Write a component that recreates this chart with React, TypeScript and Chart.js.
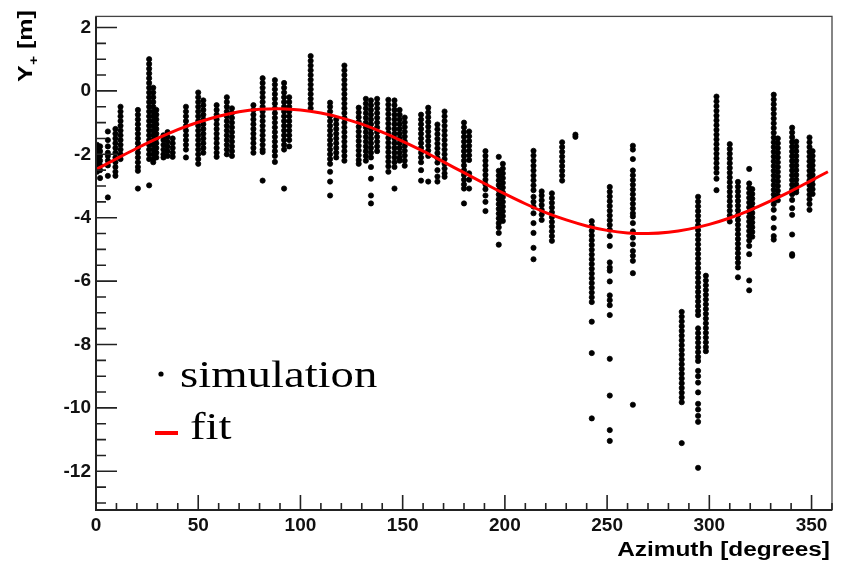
import React, { useEffect, useRef } from 'react';
import { Chart, registerables } from 'chart.js';

Chart.register(...registerables);

// Azimuth (degrees) of each vertical column of simulated points
const simColumnX = [
  0.5, 2.0, 5.8, 9.5, 12.0, 20.5, 26.0, 28.0, 29.5, 33.0, 35.0, 37.5, 44.0, 50.0, 52.5, 59.0, 64.0, 66.5,
  77.0, 81.5, 87.5, 92.0, 94.5, 105.0, 114.5, 117.5, 121.5, 128.5, 132.0, 134.5, 137.5, 143.0, 146.0, 148.5,
  151.0, 159.0, 162.5, 167.0, 170.5, 180.0, 182.5, 190.5, 197.0, 199.0, 214.0, 218.0, 223.0, 228.0, 234.5,
  242.5, 251.3, 262.6, 286.5, 294.5, 298.3, 303.5, 310.0, 314.0, 319.5, 321.0, 331.5, 333.5, 340.5, 342.5,
  349.0, 350.5,
];

// Y+ values (m) read for each column
const simColumnY: number[][] = [
  [-1.70, -1.85, -2.00, -2.15, -2.30, -2.45, -2.55],
  [-1.75, -1.90, -2.05, -2.20, -2.35, -2.50, -2.75],
  [-1.28, -1.55, -1.75, -1.95, -2.05, -2.20, -2.35, -2.68, -3.36],
  [-1.20, -1.35, -1.50, -1.65, -1.80, -1.95, -2.10, -2.25, -2.40, -2.55, -2.68],
  [-0.50, -0.65, -0.80, -0.95, -1.10, -1.25, -1.40, -1.55, -1.70, -1.85, -2.00, -2.15],
  [-0.60, -0.75, -0.90, -1.05, -1.20, -1.35, -1.50, -1.65, -1.80, -1.95, -2.10, -2.25, -2.40, -2.52, -3.08],
  [1.00, 0.85, 0.70, 0.55, 0.40, 0.25, 0.10, -0.05, -0.20, -0.35, -0.50, -0.65, -0.80, -0.95, -1.10, -1.25, -1.40, -1.55, -1.70, -1.85, -2.00, -2.15, -2.98],
  [0.10, -0.05, -0.20, -0.35, -0.50, -0.65, -0.80, -0.95, -1.10, -1.25, -1.40, -1.55, -1.70, -1.85, -2.00, -2.15, -2.25],
  [-0.60, -0.75, -0.90, -1.05, -1.20, -1.35, -1.50, -1.65, -1.80, -1.95, -2.10],
  [-1.40, -1.55, -1.70, -1.85, -2.00, -2.10],
  [-1.30, -1.45, -1.60, -1.75, -1.90, -2.05],
  [-1.50, -1.65, -1.80, -1.95, -2.08],
  [-0.50, -0.65, -0.80, -0.95, -1.10, -1.25, -1.40, -1.55, -1.70, -1.85, -2.10],
  [-0.05, -0.20, -0.35, -0.50, -0.65, -0.80, -0.95, -1.10, -1.25, -1.40, -1.55, -1.70, -1.85, -2.00, -2.15, -2.30],
  [-0.30, -0.45, -0.60, -0.75, -0.90, -1.05, -1.20, -1.35, -1.50, -1.65, -1.80, -1.95],
  [-0.45, -0.60, -0.75, -0.90, -1.05, -1.20, -1.35, -1.50, -1.65, -1.80, -1.95, -2.08],
  [-0.20, -0.35, -0.50, -0.65, -0.80, -0.95, -1.10, -1.25, -1.40, -1.55, -1.70, -1.85, -2.00],
  [-0.55, -0.70, -0.85, -1.00, -1.15, -1.30, -1.45, -1.60, -1.75, -1.90, -2.05],
  [-0.45, -0.60, -0.75, -0.90, -1.05, -1.20, -1.35, -1.50, -1.65, -1.80, -1.95],
  [0.40, 0.25, 0.10, -0.05, -0.20, -0.35, -0.50, -0.65, -0.80, -0.95, -1.10, -1.25, -1.40, -1.55, -1.70, -1.85, -1.93, -2.83],
  [0.34, 0.20, 0.05, -0.10, -0.25, -0.40, -0.55, -0.70, -0.85, -1.00, -1.15, -1.30, -1.45, -1.60, -1.75, -1.90, -2.05, -2.24],
  [0.25, 0.10, -0.05, -0.20, -0.35, -0.50, -0.65, -0.80, -0.95, -1.10, -1.25, -1.40, -1.55, -1.70, -1.85, -3.08],
  [-0.20, -0.35, -0.50, -0.65, -0.80, -0.95, -1.10, -1.25, -1.40, -1.55, -1.75],
  [1.10, 0.95, 0.80, 0.65, 0.50, 0.35, 0.20, 0.05, -0.10, -0.25, -0.40, -0.55],
  [-0.37, -0.50, -0.65, -0.80, -0.95, -1.10, -1.25, -1.40, -1.55, -1.70, -1.85, -2.00, -2.15, -2.30, -2.55, -2.86, -3.30],
  [-0.90, -1.05, -1.20, -1.35, -1.50, -1.65, -1.80, -1.95, -2.10],
  [0.80, 0.65, 0.50, 0.35, 0.20, 0.05, -0.10, -0.25, -0.40, -0.55, -0.70, -0.85, -1.00, -1.15, -1.30, -1.45, -1.60, -1.75, -1.90, -2.05, -2.20],
  [-0.53, -0.68, -0.83, -0.98, -1.13, -1.28, -1.43, -1.58, -1.73, -1.88, -2.03, -2.18, -2.30],
  [-0.25, -0.40, -0.55, -0.70, -0.85, -1.00, -1.15, -1.30, -1.45, -1.60, -1.75, -1.90, -2.05, -2.20],
  [-0.30, -0.45, -0.60, -0.75, -0.90, -1.05, -1.20, -1.35, -1.50, -1.65, -1.80, -1.95, -2.10, -2.40, -2.77, -3.30, -3.55],
  [-0.25, -0.40, -0.55, -0.70, -0.85, -1.00, -1.15, -1.30, -1.45, -1.60, -1.75, -1.90],
  [-0.28, -0.43, -0.58, -0.73, -0.88, -1.03, -1.18, -1.33, -1.48, -1.63, -1.78, -1.93, -2.08, -2.23, -2.38, -2.55],
  [-0.30, -0.45, -0.60, -0.75, -0.90, -1.05, -1.20, -1.35, -1.50, -1.65, -1.80, -1.95, -2.10, -2.25, -2.40, -3.08],
  [-0.60, -0.75, -0.90, -1.05, -1.20, -1.35, -1.50, -1.65, -1.80, -1.95, -2.10, -2.20],
  [-0.84, -0.99, -1.14, -1.29, -1.44, -1.59, -1.74, -1.89, -2.04, -2.20, -2.36],
  [-0.75, -0.90, -1.05, -1.20, -1.35, -1.50, -1.65, -1.80, -1.95, -2.10, -2.25, -2.50, -2.83],
  [-0.53, -0.68, -0.83, -0.98, -1.13, -1.28, -1.43, -1.58, -1.73, -1.88, -2.05, -2.86],
  [-1.06, -1.21, -1.36, -1.51, -1.66, -1.81, -1.96, -2.11, -2.26, -2.50, -2.70, -2.86],
  [-0.65, -0.80, -0.95, -1.10, -1.25, -1.40, -1.55, -1.70, -1.85, -2.00, -2.15, -2.30, -2.45, -2.60, -2.71],
  [-1.00, -1.15, -1.30, -1.45, -1.60, -1.75, -1.90, -2.05, -2.20, -2.35, -2.50, -2.65, -2.80, -2.95, -3.08, -3.55],
  [-1.28, -1.43, -1.58, -1.73, -1.88, -2.03, -2.18, -2.60, -2.80, -3.08],
  [-1.90, -2.05, -2.20, -2.35, -2.50, -2.65, -2.80, -2.95, -3.10, -3.30, -3.50, -3.79],
  [-2.08, -2.52, -2.67, -2.82, -2.97, -3.12, -3.27, -3.42, -3.57, -3.72, -3.87, -4.02, -4.17, -4.30, -4.48, -4.85],
  [-2.30, -2.45, -2.60, -2.75, -2.90, -3.05, -3.20, -3.35, -3.50, -3.65, -3.80, -3.95, -4.10],
  [-1.89, -2.04, -2.20, -2.36, -2.51, -2.67, -2.82, -2.98, -3.13, -3.34, -3.50, -3.65, -3.86, -4.17, -4.48, -4.95, -5.31],
  [-3.17, -3.30, -3.45, -3.60, -3.75, -3.90, -4.07],
  [-3.23, -3.38, -3.53, -3.68, -3.83, -3.98, -4.13, -4.28, -4.43, -4.58, -4.73],
  [-1.62, -1.77, -1.92, -2.07, -2.22, -2.37, -2.52, -2.67, -2.83],
  [-1.38, -1.45],
  [-4.11, -4.26, -4.41, -4.56, -4.71, -4.86, -5.01, -5.16, -5.31, -5.46, -5.61, -5.76, -5.91, -6.06, -6.21, -6.36, -6.51, -6.66, -7.28, -8.27, -10.33],
  [-3.03, -3.18, -3.33, -3.48, -3.63, -3.78, -3.93, -4.08, -4.23, -4.38, -4.58, -4.89, -5.41, -5.57, -5.67, -6.01, -6.45, -6.60, -6.76, -7.07, -8.45, -9.61, -10.70, -11.04],
  [-1.73, -1.85, -2.15, -2.51, -2.66, -2.81, -2.96, -3.11, -3.26, -3.41, -3.56, -3.71, -3.86, -3.96, -4.17, -4.43, -4.63, -4.84, -5.05, -5.20, -5.36, -5.75, -9.90],
  [-6.97, -7.12, -7.27, -7.42, -7.57, -7.72, -7.87, -8.02, -8.17, -8.32, -8.47, -8.62, -8.77, -8.92, -9.07, -9.22, -9.37, -9.52, -9.67, -9.82, -11.11],
  [-3.34, -3.49, -3.64, -3.79, -3.94, -4.09, -4.24, -4.39, -4.54, -4.69, -4.84, -4.99, -5.14, -5.29, -5.44, -5.59, -5.74, -5.89, -6.04, -6.19, -6.34, -6.49, -6.64, -6.79, -6.94, -7.07, -7.49, -7.64, -7.79, -7.94, -8.09, -8.24, -8.39, -8.52, -8.83, -9.00, -9.20, -9.51, -9.87, -10.05, -10.25, -10.44, -11.89],
  [-5.83, -5.98, -6.13, -6.28, -6.43, -6.58, -6.73, -6.88, -7.03, -7.18, -7.33, -7.48, -7.63, -7.78, -7.93, -8.08, -8.21],
  [-0.18, -0.33, -0.48, -0.63, -0.78, -0.93, -1.08, -1.23, -1.38, -1.53, -1.68, -1.83, -1.98, -2.13, -2.28, -2.43, -2.58, -2.77, -3.13],
  [-1.68, -1.83, -1.98, -2.13, -2.28, -2.43, -2.58, -2.73, -2.88, -3.03, -3.18, -3.33, -3.48, -3.63, -3.78, -3.93, -4.12],
  [-2.87, -3.02, -3.17, -3.32, -3.47, -3.62, -3.77, -3.92, -4.07, -4.22, -4.37, -4.52, -4.67, -4.82, -4.97, -5.12, -5.27, -5.42, -5.57, -5.88],
  [-2.46, -2.92, -3.07, -3.22, -3.37, -3.52, -3.67, -3.82, -3.97, -4.12, -4.27, -4.42, -4.57, -4.72, -4.89, -5.15, -5.98, -6.29],
  [-3.10, -3.25, -3.40, -3.55, -3.70, -3.85, -4.00, -4.15, -4.30, -4.45, -4.60],
  [-0.12, -0.27, -0.42, -0.57, -0.72, -0.87, -1.02, -1.17, -1.32, -1.47, -1.62, -1.77, -1.92, -2.07, -2.22, -2.37, -2.52, -2.67, -2.82, -2.97, -3.12, -3.27, -3.42, -3.57, -3.75, -4.01, -4.32, -4.58, -4.69],
  [-1.50, -1.65, -1.80, -1.95, -2.10, -2.25, -2.40, -2.55, -2.70, -2.85, -3.00, -3.15, -3.30, -3.45],
  [-1.16, -1.31, -1.46, -1.61, -1.76, -1.91, -2.06, -2.21, -2.36, -2.51, -2.66, -2.81, -2.96, -3.11, -3.26, -3.44, -3.70, -3.91, -4.53, -5.15, -5.20],
  [-1.60, -1.75, -1.90, -2.05, -2.20, -2.35, -2.50, -2.65, -2.80, -2.95, -3.10, -3.20],
  [-1.47, -1.62, -1.77, -1.92, -2.07, -2.22, -2.37, -2.52, -2.67, -2.82, -2.97, -3.12, -3.27, -3.42, -3.57, -3.75],
  [-1.90, -2.05, -2.20, -2.35, -2.50, -2.65, -2.80, -2.95, -3.10, -3.25],
];

// Fit curve
const fitX = [0, 10, 20, 30, 40, 50, 60, 70, 80, 90, 100, 110, 120, 130, 140, 150, 160, 170, 180, 190, 200, 210, 220, 230, 240, 250, 260, 270, 280, 290, 300, 310, 320, 330, 340, 350, 358];
const fitY = [-2.48, -2.14, -1.81, -1.50, -1.22, -0.99, -0.80, -0.66, -0.58, -0.56, -0.60, -0.70, -0.85, -1.05, -1.30, -1.59, -1.90, -2.24, -2.58, -2.92, -3.25, -3.56, -3.84, -4.07, -4.26, -4.40, -4.48, -4.50, -4.46, -4.36, -4.21, -4.01, -3.76, -3.47, -3.16, -2.82, -2.55];

const xTickValues = [0, 50, 100, 150, 200, 250, 300, 350];
const yTickValues = [-12, -10, -8, -6, -4, -2, 0, 2];
const xTitle = 'Azimuth [degrees]';
const yTitleMain = 'Y';
const yTitleSub = '+';
const yTitleUnit = ' [m]';
const legendSim = 'simulation';
const legendFit = 'fit';

const SANS = '"Liberation Sans", Arial, Helvetica, sans-serif';
const SERIF = '"Liberation Serif", "Times New Roman", serif';

const rootStyle = {
  id: 'rootStyle',
  afterDatasetsDraw(chart: any) {
    const { ctx, chartArea: ca, scales } = chart;
    const xs = scales.x;
    const ys = scales.y;
    ctx.save();
    // frame
    ctx.strokeStyle = '#444';
    ctx.lineWidth = 1.3;
    ctx.strokeRect(ca.left, ca.top, ca.right - ca.left, ca.bottom - ca.top);
    ctx.strokeStyle = '#222';
    ctx.lineWidth = 2;
    ctx.beginPath();
    ctx.moveTo(ca.left, ca.top);
    ctx.lineTo(ca.left, ca.bottom);
    ctx.lineTo(ca.right, ca.bottom);
    ctx.stroke();
    // ticks (inside the frame)
    ctx.lineWidth = 1.6;
    ctx.strokeStyle = '#222';
    ctx.beginPath();
    for (let v = 0; v <= 360; v += 10) {
      const px = xs.getPixelForValue(v);
      const len = v % 50 === 0 ? 15 : 7;
      ctx.moveTo(px, ca.bottom);
      ctx.lineTo(px, ca.bottom - len);
    }
    for (let v = -13; v <= 2; v += 0.5) {
      const py = ys.getPixelForValue(v);
      const len = Math.abs(v % 2) < 1e-9 ? 21 : 10;
      ctx.moveTo(ca.left, py);
      ctx.lineTo(ca.left + len, py);
    }
    ctx.stroke();
    ctx.restore();
  },
  afterDraw(chart: any) {
    const { ctx } = chart;
    ctx.save();
    ctx.fillStyle = '#000';
    // x title
    ctx.font = `bold 20px ${SANS}`;
    ctx.textAlign = 'right';
    ctx.textBaseline = 'alphabetic';
    ctx.save();
    ctx.translate(830, 556);
    ctx.scale(1.22, 1);
    ctx.fillText(xTitle, 0, 0);
    ctx.restore();
    // y title, rotated
    ctx.save();
    ctx.translate(32, 82);
    ctx.rotate(-Math.PI / 2);
    ctx.scale(1.25, 1);
    ctx.textAlign = 'left';
    ctx.font = `bold 20px ${SANS}`;
    ctx.fillText(yTitleMain, 0, 0);
    let w = ctx.measureText(yTitleMain).width;
    ctx.font = `bold 12px ${SANS}`;
    ctx.fillText(yTitleSub, w + 0.5, 6);
    w += ctx.measureText(yTitleSub).width + 0.5;
    ctx.font = `bold 20px ${SANS}`;
    ctx.fillText(yTitleUnit, w, 0);
    ctx.restore();
    // legend
    ctx.beginPath();
    ctx.arc(161, 374, 2.6, 0, Math.PI * 2);
    ctx.fill();
    ctx.font = `38px ${SERIF}`;
    ctx.textAlign = 'left';
    ctx.save();
    ctx.translate(180, 387);
    ctx.scale(1.23, 1);
    ctx.fillText(legendSim, 0, 0);
    ctx.restore();
    ctx.fillStyle = '#ff0000';
    ctx.fillRect(155, 431, 23, 4);
    ctx.fillStyle = '#000';
    ctx.save();
    ctx.translate(190, 439);
    ctx.scale(1.23, 1);
    ctx.fillText(legendFit, 0, 0);
    ctx.restore();
    ctx.restore();
  },
};

export default function App() {
  const ref = useRef<HTMLCanvasElement>(null);
  useEffect(() => {
    if (!ref.current) return;
    const simPoints = simColumnX.flatMap((x, i) => simColumnY[i].map((y) => ({ x, y })));
    const fitPoints = fitX.map((x, i) => ({ x, y: fitY[i] }));
    const tickFont = { family: SANS, weight: 'bold' as const, size: 19 };
    const chart = new Chart(ref.current, {
      type: 'scatter',
      data: {
        datasets: [
          {
            type: 'line' as any,
            label: legendFit,
            data: fitPoints,
            borderColor: '#ff0000',
            borderWidth: 3,
            pointRadius: 0,
            tension: 0.35,
            fill: false,
            order: 0,
          } as any,
          {
            label: legendSim,
            data: simPoints,
            pointRadius: 2.6,
            pointBorderWidth: 0.8,
            backgroundColor: '#000',
            borderColor: '#000',
            order: 1,
          },
        ],
      },
      options: {
        responsive: false,
        animation: false,
        layout: { padding: { top: 10, right: 12, left: 0, bottom: 0 } },
        plugins: { legend: { display: false }, tooltip: { enabled: false } },
        scales: {
          x: {
            type: 'linear',
            min: 0,
            max: 360,
            grid: { display: false, drawTicks: false },
            border: { display: false },
            ticks: { font: tickFont, color: '#111', padding: 4, maxRotation: 0, autoSkip: false },
            afterBuildTicks: (s: any) => {
              s.ticks = xTickValues.map((v) => ({ value: v }));
            },
            afterFit: (s: any) => {
              s.height = 53;
            },
          },
          y: {
            type: 'linear',
            min: -13.22,
            max: 2.35,
            grid: { display: false, drawTicks: false },
            border: { display: false },
            ticks: { font: tickFont, color: '#111', padding: 5, callback: (v: any) => String(v) },
            afterBuildTicks: (s: any) => {
              s.ticks = yTickValues.map((v) => ({ value: v }));
            },
            afterFit: (s: any) => {
              s.width = 96;
            },
          },
        },
      },
      plugins: [rootStyle],
    });
    return () => chart.destroy();
  }, []);
  return (
    <div style={{ position: 'absolute', left: 0, top: 0, width: 844, height: 563, background: '#fff' }}>
      <canvas ref={ref} width={844} height={563} style={{ display: 'block' }} />
    </div>
  );
}
